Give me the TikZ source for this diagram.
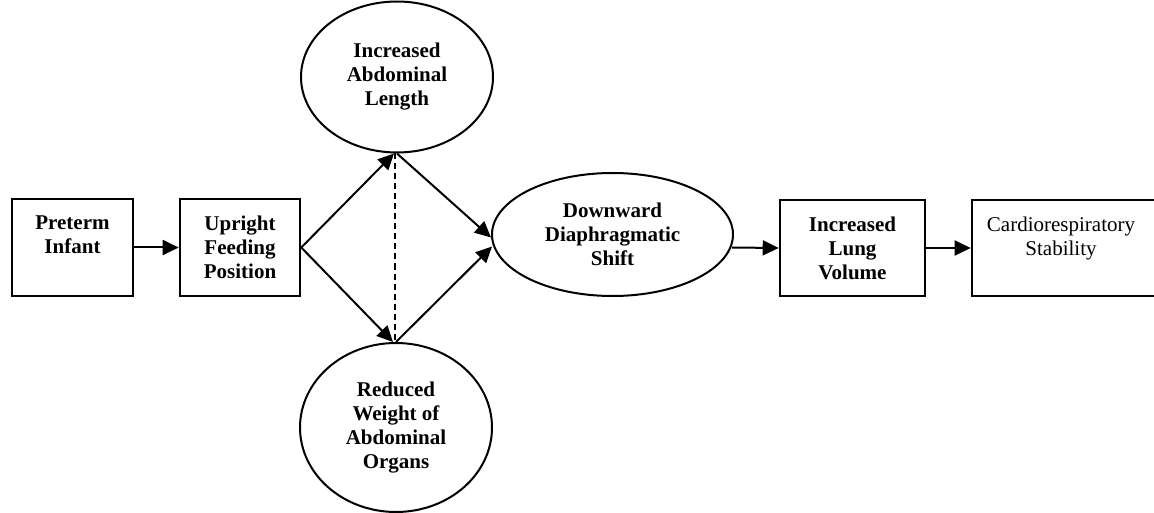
\documentclass[tikz,border=0pt]{standalone}
\usepackage{fontspec}
\setmainfont{Liberation Serif}
\usetikzlibrary{shapes.geometric,arrows.meta}
\begin{document}
\begin{tikzpicture}[x=1pt,y=-1pt,
  every node/.style={font=\fontsize{21}{24}\selectfont},
  box/.style={draw,line width=2.6pt,inner sep=0pt},
  oval/.style={draw,ellipse,line width=2pt,inner sep=0pt,align=center,font=\fontsize{21}{24}\selectfont\bfseries},
  boxtext/.style={anchor=north,inner sep=0pt,align=center,yshift=-18pt},
  conn/.style={line width=2pt,-{Triangle[length=16pt,width=15pt]}},
  dashconn/.style={line width=1.6pt,dash pattern=on 6pt off 4pt}
]
\useasboundingbox (0,0) rectangle (1154,513);

% boxes
\node[box,minimum width=121pt,minimum height=97pt] (pre) at (72.5,247.5) {};
\node[boxtext,font=\fontsize{21}{24}\selectfont\bfseries] (pretxt) at (pre.north) {Preterm\\Infant};

\node[box,minimum width=120pt,minimum height=97pt] (up) at (240,247.5) {};
\node[boxtext,font=\fontsize{21}{24}\selectfont\bfseries] (uptxt) at (up.north) {Upright\\Feeding\\Position};

\node[box,minimum width=145pt,minimum height=96pt] (lung) at (852.5,248) {};
\node[boxtext,font=\fontsize{21}{24}\selectfont\bfseries] (lungtxt) at (lung.north) {Increased\\Lung\\Volume};

\node[box,minimum width=186pt,minimum height=96pt] (card) at (1065,248) {};
\node[boxtext,xshift=-4pt] (cardtxt) at (card.north) {Cardiorespiratory\\Stability};

% ellipses
\node[oval,minimum width=192pt,minimum height=151pt] (top) at (397,77) {Increased\\Abdominal\\Length};
\node[oval,minimum width=192pt,minimum height=169pt] (bot) at (396,427.5) {Reduced\\Weight of\\Abdominal\\Organs};
\node[oval,minimum width=241pt,minimum height=123pt] (down) at (612.5,234.5) {Downward\\Diaphragmatic\\Shift};

% connectors
\draw[conn] (pre.east) -- (up.west);
\draw[conn] (up.east) -- ([xshift=-3pt]top.south);
\draw[conn] (up.east) -- ([xshift=-3pt]bot.north);
\draw[dashconn] ([xshift=-2pt]top.south) -- ([xshift=-1pt]bot.north);
\draw[conn] (top.south) -- ([yshift=-3pt]down.west);
\draw[conn] (bot.north) -- ([yshift=-12pt,xshift=1pt]down.west);
\draw[conn] ([yshift=-13pt,xshift=-2pt]down.east) -- (lung.west);
\draw[conn] (lung.east) -- (card.west);
\end{tikzpicture}
\end{document}
